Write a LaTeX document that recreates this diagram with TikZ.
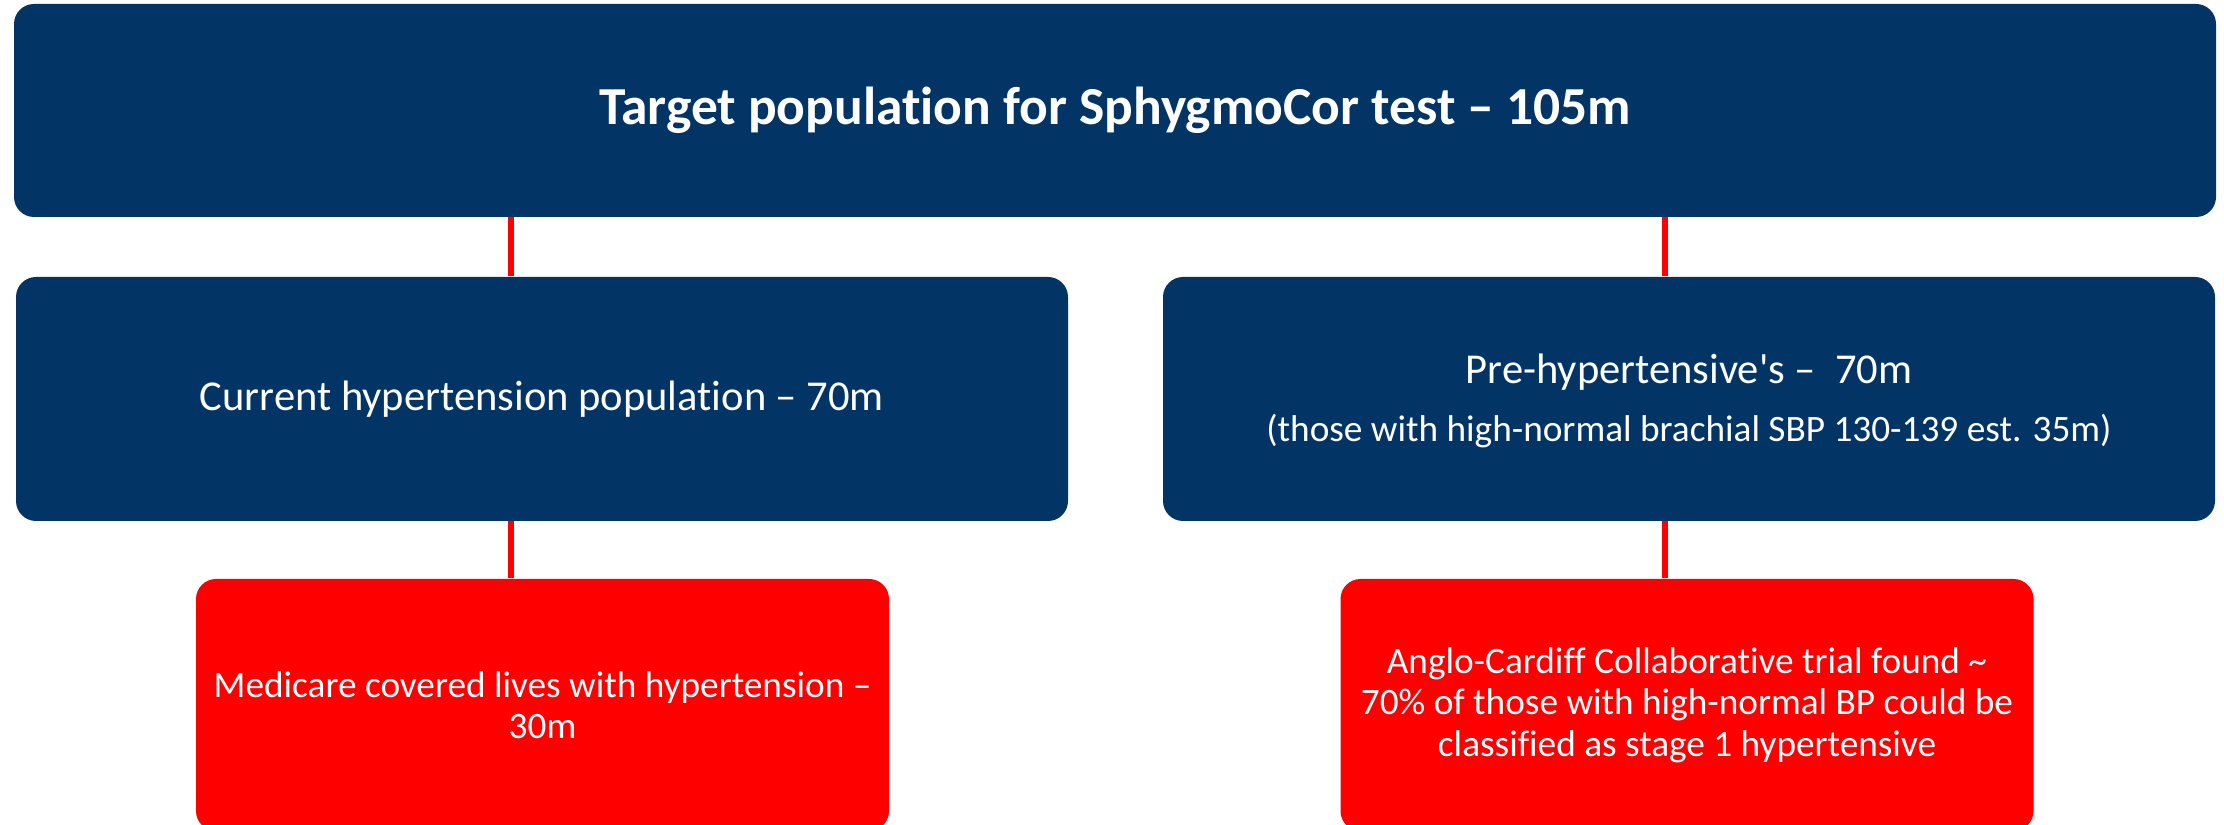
\documentclass[tikz,border=0pt]{standalone}
\usepackage{fontspec}
\setmainfont[Ligatures={TeX,NoCommon}]{Carlito}
\usetikzlibrary{positioning}
\definecolor{navy}{RGB}{2,52,102}
\definecolor{brightred}{RGB}{255,0,0}

\begin{document}
\begin{tikzpicture}
[x=0.01cm,y=-0.01cm,
box/.style={rectangle,rounded corners=20\pgflinewidth,inner sep=0pt,
  text=white,align=center,draw=none},
headbox/.style={box,fill=navy,minimum width=2202\pgflinewidth,minimum height=213\pgflinewidth,
  font=\fontsize{15.2}{18}\selectfont\bfseries},
groupbox/.style={box,fill=navy,minimum width=1052\pgflinewidth,minimum height=244\pgflinewidth,
  font=\fontsize{12.1}{15}\selectfont},
subbox/.style={box,fill=brightred,minimum width=693\pgflinewidth,minimum height=252\pgflinewidth,
  font=\fontsize{10.6}{11.8}\selectfont},
link/.style={draw=brightred,line width=1.6pt}]
\pgfsetlinewidth{0.01cm}
\useasboundingbox (0,0) rectangle (2224,825);
\node[headbox] (target) at (1115,110.5) {Target population for SphygmoCor test -- 105m};
\node[groupbox] (current) at (542,399) {Current hypertension population -- 70m};
\node[groupbox] (pre) at (1689,399) {};
\node[align=center,text=white,font=\fontsize{12.1}{15}\selectfont] (pretitle) at (1689,372)
  {Pre-hypertensive\textquotesingle s --~ 70m};
\node[align=center,text=white,font=\fontsize{10.6}{13}\selectfont] (prenote) at (1689,431)
  {(those with high-normal brachial SBP 130-139 est. 35m)};
\node[subbox] (medicare) at (542.5,705) {Medicare covered lives with hypertension --\\30m};
\node[subbox] (anglo) at (1687,705)
  {Anglo-Cardiff Collaborative trial found \textasciitilde\\70\% of those with high-normal BP could be\\classified as stage 1 hypertensive};
\coordinate (left line) at (511,0);
\coordinate (right line) at (1665,0);
\draw[link] (target.south -| left line) -- (current.north -| left line);
\draw[link] (target.south -| right line) -- (pre.north -| right line);
\draw[link] (current.south -| left line) -- (medicare.north -| left line);
\draw[link] (pre.south -| right line) -- (anglo.north -| right line);
\end{tikzpicture}
\end{document}
